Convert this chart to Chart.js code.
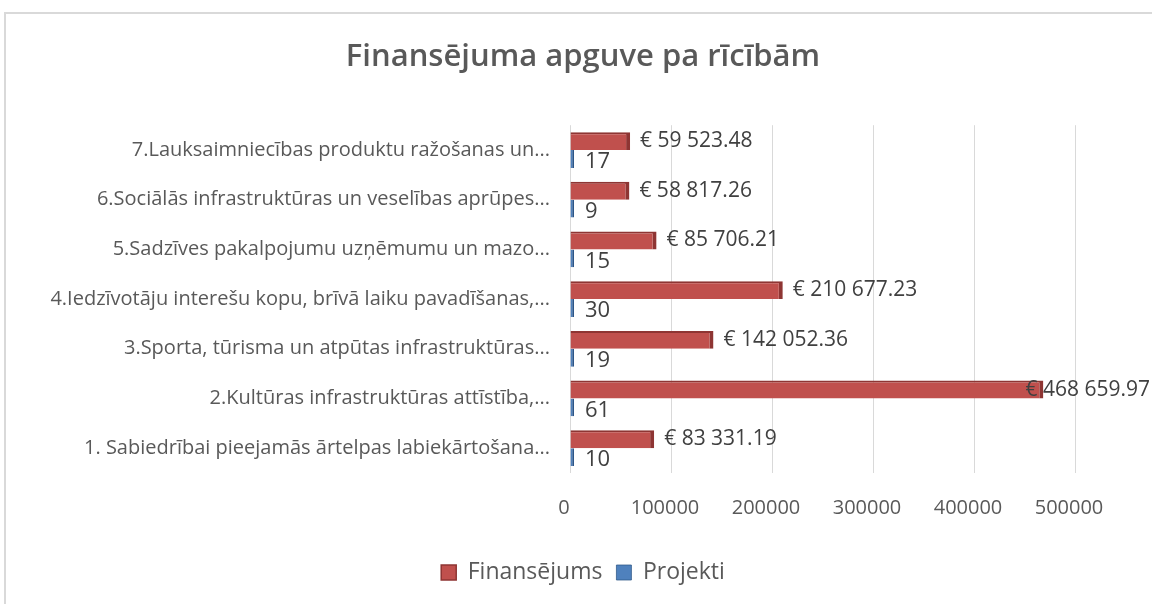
<!DOCTYPE html>
<html>
<head>
<meta charset="utf-8">
<script src="https://cdn.jsdelivr.net/npm/chart.js@4.4.1/dist/chart.umd.min.js"></script>
<style>
  body { margin: 0; background: #fff; overflow: hidden; }
  #wrap { position: relative; width: 1152px; height: 604px; }
  #frame { position: absolute; left: 4px; top: 12px; width: 1200px; height: 700px; border: 2px solid #d9d9d9; }
  #chart { position: absolute; left: 0; top: 0; }
</style>
</head>
<body>
<div id="wrap">
  <div id="frame"></div>
  <canvas id="chart" width="1152" height="604"></canvas>
</div>
<script>
// categories, bottom (1) to top (7)
const categories = [
    "1. Sabiedrībai pieejamās ārtelpas labiekārtošana...",
    "2.Kultūras infrastruktūras attīstība,...",
    "3.Sporta, tūrisma un atpūtas infrastruktūras...",
    "4.Iedzīvotāju interešu kopu, brīvā laiku pavadīšanas,...",
    "5.Sadzīves pakalpojumu uzņēmumu un mazo...",
    "6.Sociālās infrastruktūras un veselības aprūpes...",
    "7.Lauksaimniecības produktu ražošanas un...",
];
const finansejums = [83331.19, 468659.97, 142052.36, 210677.23, 85706.21, 58817.26, 59523.48];
const projekti = [10, 61, 19, 30, 15, 9, 17];
const xMin = 0;
const xMax = 500000;
const xStep = 100000;

const FONT = "'Open Sans', 'Noto Sans', sans-serif";
const TEXT = "#595959";

// "€ 59 523.48"
function euro(v) {
    const parts = v.toFixed(2).split(".");
    parts[0] = parts[0].replace(/\B(?=(\d{3})+(?!\d))/g, " ");
    return "€ " + parts.join(".");
}

const valueLabels = {
    id: "valueLabels",
    afterDatasetsDraw(chart) {
        const ctx = chart.ctx;
        ctx.save();
        ctx.fillStyle = "#404040";
        ctx.textBaseline = "middle";
        ctx.textAlign = "left";
        chart.data.datasets.forEach((ds, di) => {
            const meta = chart.getDatasetMeta(di);
            ctx.font = (di === 0 ? "21px " : "22px ") + FONT;
            meta.data.forEach((bar, i) => {
                const txt = di === 0 ? euro(ds.data[i]) : String(ds.data[i]);
                const w = ctx.measureText(txt).width;
                let x = bar.x + (di === 0 ? 10 : 11);
                // keep it inside the canvas, like Excel does
                x = Math.min(x, chart.width - w - 2);
                ctx.fillText(txt, x, bar.y + (di === 0 ? 0 : 3));
            });
        });
        ctx.restore();
    },
};

new Chart(document.getElementById("chart"), {
    type: "bar",
    data: {
        labels: categories,
        datasets: [
            {
                label: "Finansējums",
                data: finansejums,
                backgroundColor: "#C0504D",
                borderColor: "#8E3533",
                borderWidth: { top: 2, right: 4, bottom: 0, left: 0 },
                borderSkipped: false,
            },
            {
                label: "Projekti",
                data: projekti,
                backgroundColor: "#4F81BD",
                borderColor: "#2C5586",
                borderWidth: { top: 0, right: 3, bottom: 0, left: 0 },
                borderSkipped: false,
                minBarLength: 4,
            },
        ],
    },
    options: {
        indexAxis: "y",
        responsive: false,
        devicePixelRatio: 1,
        animation: false,
        layout: { padding: { left: 14, right: 0, top: 0, bottom: 10 } },
        datasets: { bar: { categoryPercentage: 0.72, barPercentage: 1.0 } },
        scales: {
            x: {
                min: xMin,
                max: xMax,
                grid: { color: "#d9d9d9", drawTicks: false },
                border: { display: false },
                ticks: {
                    stepSize: xStep,
                    padding: 23,
                    labelOffset: -6,
                    color: TEXT,
                    font: { family: FONT, size: 20 },
                    callback: (v) => String(v),
                },
                afterFit(scale) {
                    scale.height = 74;
                },
            },
            y: {
                reverse: true,
                grid: { display: false },
                border: { display: false },
                ticks: {
                    padding: 12,
                    color: TEXT,
                    font: { family: FONT, size: 20 },
                },
                afterFit(scale) {
                    scale.width = 556;
                },
            },
            // empty right-hand axis, only reserves room for the long value labels
            yRight: {
                type: "linear",
                position: "right",
                grid: { display: false },
                border: { display: false },
                ticks: { display: false },
                afterFit(scale) {
                    scale.width = 77;
                },
            },
        },
        plugins: {
            title: {
                display: true,
                text: "Finansējuma apguve pa rīcībām",
                color: TEXT,
                font: { family: FONT, size: 31, weight: "600" },
                padding: { top: 39, bottom: 49 },
            },
            legend: {
                position: "bottom",
                labels: {
                    color: TEXT,
                    font: { family: FONT, size: 23 },
                    boxWidth: 15,
                    boxHeight: 15,
                    padding: 14,
                },
            },
            tooltip: { enabled: false },
        },
    },
    plugins: [valueLabels],
});
</script>
</body>
</html>
